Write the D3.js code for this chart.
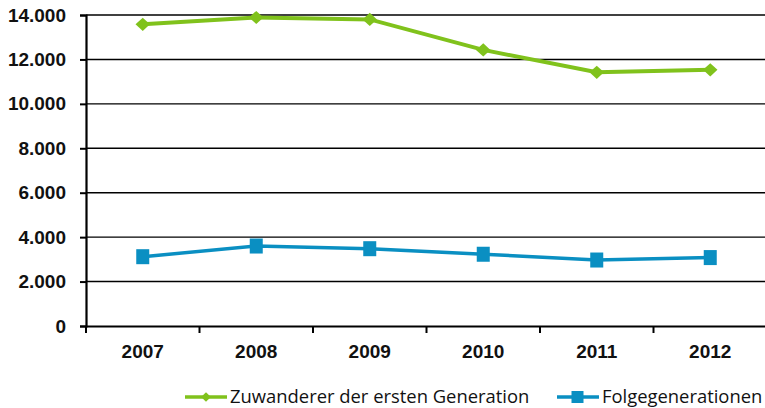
<!DOCTYPE html>
<html><head><meta charset="utf-8">
<script src="https://cdn.jsdelivr.net/npm/d3@7"></script>
<style>body{margin:0;background:#fff}svg{display:block}</style>
</head><body>
<script>
const years = ["2007","2008","2009","2010","2011","2012"];
const ersteGeneration = [13580, 13890, 13800, 12430, 11420, 11530];
const folgegenerationen = [3120, 3600, 3480, 3230, 2970, 3080];
const yTicks = [0,2000,4000,6000,8000,10000,12000,14000];
const seriesNames = ["Zuwanderer der ersten Generation","Folgegenerationen"];

const W=765,H=408;
const svg=d3.select("body").append("svg").attr("width",W).attr("height",H);
const x=d3.scaleBand().domain(years).range([86,767]);
const y=d3.scaleLinear().domain([0,14000]).range([326,15]);
const fmt=d=>d3.format(",")(d).replace(/,/g,".");
const tickFont="Liberation Sans";

// gridlines
svg.append("g").selectAll("line").data(yTicks.filter(d=>d>0)).join("line")
  .attr("x1",86).attr("x2",767).attr("y1",d=>y(d)).attr("y2",d=>y(d))
  .attr("stroke","#000").attr("stroke-width",1.4);

const yAxis=svg.append("g").attr("transform","translate(86,0)")
  .call(d3.axisLeft(y).tickValues(yTicks).tickFormat(fmt).tickSize(6).tickPadding(14));
yAxis.select(".domain").attr("stroke-width",2.2);
yAxis.selectAll(".tick line").attr("stroke-width",2);
yAxis.selectAll("text").attr("font-family",tickFont).attr("font-weight","bold").attr("font-size","19px").attr("fill","#111");

const xAxis=svg.append("g").attr("transform","translate(0,326)")
  .call(d3.axisBottom(x).tickSize(0).tickPadding(19));
xAxis.select(".domain").attr("stroke-width",2.2);
xAxis.selectAll("text").attr("font-family",tickFont).attr("font-weight","bold").attr("font-size","19px").attr("fill","#111");
// boundary ticks
const bounds=years.map(d=>x(d)).concat([x.range()[1]]);
svg.append("g").selectAll("line").data(bounds).join("line")
  .attr("x1",d=>d).attr("x2",d=>d).attr("y1",326).attr("y2",333)
  .attr("stroke","#000").attr("stroke-width",2);

const cx=d=>x(d)+x.bandwidth()/2;
const green="#80c21c", blue="#0a8fc2";
const line=d3.line().x((d,i)=>cx(years[i])).y(d=>y(d));
svg.append("path").datum(ersteGeneration).attr("d",line).attr("fill","none").attr("stroke",green).attr("stroke-width",4);
svg.append("path").datum(folgegenerationen).attr("d",line).attr("fill","none").attr("stroke",blue).attr("stroke-width",3.5);
const diamond=d3.symbol().type(d3.symbolDiamond2).size(110);
svg.append("g").selectAll("path").data(ersteGeneration).join("path")
  .attr("d",d=>diamond()).attr("transform",(d,i)=>`translate(${cx(years[i])},${y(d)}) scale(1.1,1)`).attr("fill",green);
svg.append("g").selectAll("rect").data(folgegenerationen).join("rect")
  .attr("x",(d,i)=>cx(years[i])-6.5).attr("y",d=>y(d)-7.5).attr("width",13).attr("height",15).attr("fill",blue);

// legend
const lg=svg.append("g");
const items=[{n:seriesNames[0],c:green,x0:185,sym:"d"},{n:seriesNames[1],c:blue,x0:557,sym:"s"}];
items.forEach(it=>{
  lg.append("line").attr("x1",it.x0).attr("x2",it.x0+42).attr("y1",397).attr("y2",397).attr("stroke",it.c).attr("stroke-width",3.5);
  if(it.sym==="d") lg.append("path").attr("d",d3.symbol().type(d3.symbolDiamond2).size(60)()).attr("transform",`translate(${it.x0+21},397)`).attr("fill",it.c);
  else lg.append("rect").attr("x",it.x0+14.5).attr("y",391).attr("width",12).attr("height",12).attr("fill",it.c);
  lg.append("text").attr("x",it.x0+45).attr("y",403).text(it.n)
    .attr("font-family","Open Sans").attr("font-size","18.4px").attr("fill","#111");
});
</script>
</body></html>
